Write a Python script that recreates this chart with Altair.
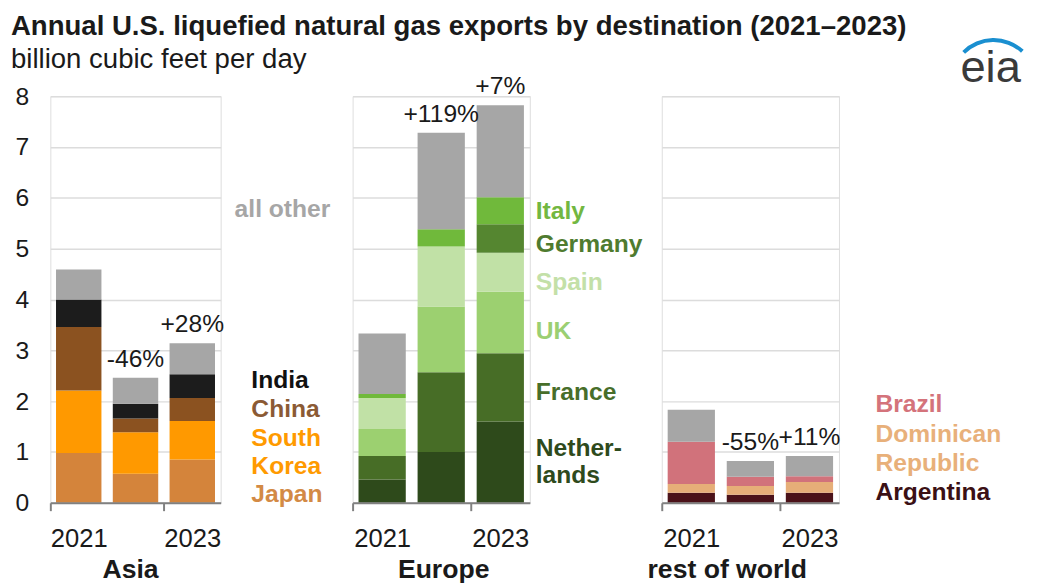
import altair as alt
import pandas as pd

FONT = "Liberation Sans"
TEXT = "#1a1a1a"

years = ["2021", "2022", "2023"]

# Asia (billion cubic feet per day), stacked bottom -> top
asia_dests = ["Japan", "South Korea", "China", "India", "all other"]
asia_japan = [0.98, 0.57, 0.85]
asia_south_korea = [1.23, 0.82, 0.76]
asia_china = [1.25, 0.27, 0.45]
asia_india = [0.54, 0.29, 0.47]
asia_other = [0.59, 0.51, 0.61]
asia_colors = ["#d4843b", "#ff9900", "#8b5220", "#1c1c1c", "#a6a6a6"]
asia_pct = ["", "-46%", "+28%"]

# Europe
europe_dests = ["Netherlands", "France", "UK", "Spain", "Germany", "Italy", "all other"]
europe_netherlands = [0.46, 1.00, 1.60]
europe_france = [0.46, 1.57, 1.34]
europe_uk = [0.53, 1.29, 1.21]
europe_spain = [0.61, 1.18, 0.77]
europe_germany = [0.00, 0.00, 0.56]
europe_italy = [0.08, 0.34, 0.53]
europe_other = [1.19, 1.90, 1.81]
europe_colors = ["#2e4a1b", "#476d26", "#9cd070", "#c1e1a6", "#558630", "#70b93b", "#a6a6a6"]
europe_pct = ["", "+119%", "+7%"]

# rest of world
row_dests = ["Argentina", "Dominican Republic", "Brazil", "all other"]
row_argentina = [0.20, 0.16, 0.20]
row_dominican = [0.17, 0.17, 0.21]
row_brazil = [0.83, 0.18, 0.11]
row_other = [0.63, 0.31, 0.40]
row_colors = ["#4b1219", "#e6ae78", "#d1727b", "#a6a6a6"]
row_pct = ["", "-55%", "+11%"]

# Direct labels (text, anchor value on the y axis, colour)
asia_labels = ["India", "China", "South", "Korea", "Japan"]
asia_label_y = [2.42, 1.85, 1.28, 0.73, 0.18]
asia_label_colors = ["#111111", "#8b5a34", "#ff9a00", "#ff9a00", "#d38a45"]
other_label = ["all other"]
other_label_y = [5.78]

europe_labels = ["Italy", "Germany", "Spain", "UK", "France", "Nether-", "lands"]
europe_label_y = [5.73, 5.08, 4.35, 3.37, 2.17, 1.08, 0.54]
europe_label_colors = ["#72b741", "#4f7b2f", "#c3e0a8", "#9bcf72", "#476e2a", "#2e4a1c", "#2e4a1c"]

row_labels = ["Brazil", "Dominican", "Republic", "Argentina"]
row_label_y = [1.94, 1.36, 0.79, 0.21]
row_label_colors = ["#d4737b", "#e8b07a", "#e8b07a", "#3b1015"]

TITLE = "Annual U.S. liquefied natural gas exports by destination (2021\u20132023)"
SUBTITLE = "billion cubic feet per day"

PLOT_H = 413
LABEL_SIZE = 25


def stack_frame(dests, series):
    rows = []
    for rank, (d, vals) in enumerate(zip(dests, series)):
        for y, v in zip(years, vals):
            rows.append({"year": y, "dest": d, "value": v, "rank": rank})
    return pd.DataFrame(rows)


def panel(region, dests, series, colors, pct, labels, label_y, label_colors,
          label_dx, width, title_x, show_y, extra=None):
    step = width / 3.0
    df = stack_frame(dests, series)
    totals = [round(sum(s[i] for s in series), 3) for i in range(3)]
    pct_df = pd.DataFrame({"year": years, "total": totals, "pct": pct})
    lab_df = pd.DataFrame({"year": ["2023"] * len(labels), "y": label_y, "lab": labels})

    xaxis = alt.Axis(
        values=["2021", "2023"], tickOffset=-step / 2, labelOffset=step / 2,
        labelAngle=0, domainColor="#808080", domainWidth=2, tickColor="#808080",
        tickWidth=2, tickSize=8, labelFontSize=26, labelColor=TEXT, labelFont=FONT,
        labelPadding=15, title=region, titleFont=FONT, titleFontSize=27,
        titleFontWeight="bold", titleColor=TEXT, titlePadding=6, titleX=title_x,
        titleAlign="center", grid=False, zindex=1,
    )
    if show_y:
        yaxis = alt.Axis(values=list(range(9)), grid=True, gridColor="#dcdcdc",
                         gridWidth=1.5, domain=False, ticks=False, labelFontSize=25,
                         labelFont=FONT, labelColor=TEXT, labelPadding=22, title=None)
    else:
        yaxis = alt.Axis(values=list(range(9)), grid=True, gridColor="#dcdcdc",
                         gridWidth=1.5, domain=False, ticks=False, labels=False,
                         title=None)

    x = alt.X("year:N", scale=alt.Scale(domain=years, paddingInner=0, paddingOuter=0),
              axis=xaxis)
    yscale = alt.Scale(domain=[0, 8], nice=False)

    bars = alt.Chart(df).mark_bar(width=alt.RelativeBandSize(0.8)).encode(
        x=x,
        y=alt.Y("value:Q", stack="zero", scale=yscale, axis=yaxis),
        color=alt.Color("dest:N", scale=alt.Scale(domain=dests, range=colors), legend=None),
        order=alt.Order("rank:Q", sort="ascending"),
    )
    pct_text = alt.Chart(pct_df).mark_text(
        baseline="middle", dy=-19, fontSize=25, font=FONT, color=TEXT
    ).encode(x=alt.X("year:N"), y=alt.Y("total:Q"), text="pct:N")
    lab_text = alt.Chart(lab_df).mark_text(
        align="left", baseline="middle", dx=label_dx, fontSize=LABEL_SIZE,
        fontWeight="bold", font=FONT
    ).encode(
        x=alt.X("year:N"), y=alt.Y("y:Q"), text="lab:N",
        fill=alt.Fill("lab:N", scale=alt.Scale(domain=labels, range=label_colors),
                      legend=None),
    )
    layers = [bars, pct_text, lab_text]
    if extra:
        layers += extra
    return alt.layer(*layers).properties(width=width, height=PLOT_H)


asia_w = 173
other_df = pd.DataFrame({"year": ["2023"], "y": other_label_y, "lab": other_label})
asia_other_text = alt.Chart(other_df).mark_text(
    align="left", baseline="middle", dx=43, fontSize=LABEL_SIZE, fontWeight="bold",
    font=FONT, color="#a6a6a6"
).encode(x=alt.X("year:N"), y=alt.Y("y:Q"), text="lab:N")
title_text = alt.Chart(pd.DataFrame({"t": [TITLE]})).mark_text(
    align="left", baseline="middle", fontSize=28, fontWeight="bold", font=FONT,
    color=TEXT
).encode(x=alt.value(-40), y=alt.value(-70), text="t:N")
subtitle_text = alt.Chart(pd.DataFrame({"t": [SUBTITLE]})).mark_text(
    align="left", baseline="middle", fontSize=28, font=FONT, color=TEXT
).encode(x=alt.value(-40), y=alt.value(-37), text="t:N")

asia = panel("Asia", asia_dests,
             [asia_japan, asia_south_korea, asia_china, asia_india, asia_other],
             asia_colors, asia_pct, asia_labels, asia_label_y, asia_label_colors,
             60, asia_w, 81, True, [asia_other_text, title_text, subtitle_text])

europe = panel("Europe", europe_dests,
               [europe_netherlands, europe_france, europe_uk, europe_spain,
                europe_germany, europe_italy, europe_other],
               europe_colors, europe_pct, europe_labels, europe_label_y,
               europe_label_colors, 36, 180, 92, False)

logo_text = alt.Chart(pd.DataFrame({"t": ["eia"]})).mark_text(
    align="center", baseline="middle", fontSize=46, font=FONT, color="#3a3a3a"
).encode(x=alt.value(334), y=alt.value(-28), text="t:N")
logo_arc = alt.Chart(pd.DataFrame({"t": ["swoosh"]})).mark_arc(
    radius=45, radius2=41, theta=5.5, theta2=7.03, color="#1a8fd0"
).encode(x=alt.value(337), y=alt.value(-14))

row = panel("rest of world", row_dests,
            [row_argentina, row_dominican, row_brazil, row_other],
            row_colors, row_pct, row_labels, row_label_y, row_label_colors,
            67, 180, 66, False, [logo_text, logo_arc])

chart = alt.hconcat(asia, europe, row, spacing=134, bounds="flush").resolve_scale(
    color="independent", fill="independent"
).properties(
    padding={"left": 2, "top": 0, "right": 5, "bottom": 0}
).configure_view(stroke=None).configure(background="white")

chart.save("out.html", embed_options={"renderer": "svg", "actions": False})
